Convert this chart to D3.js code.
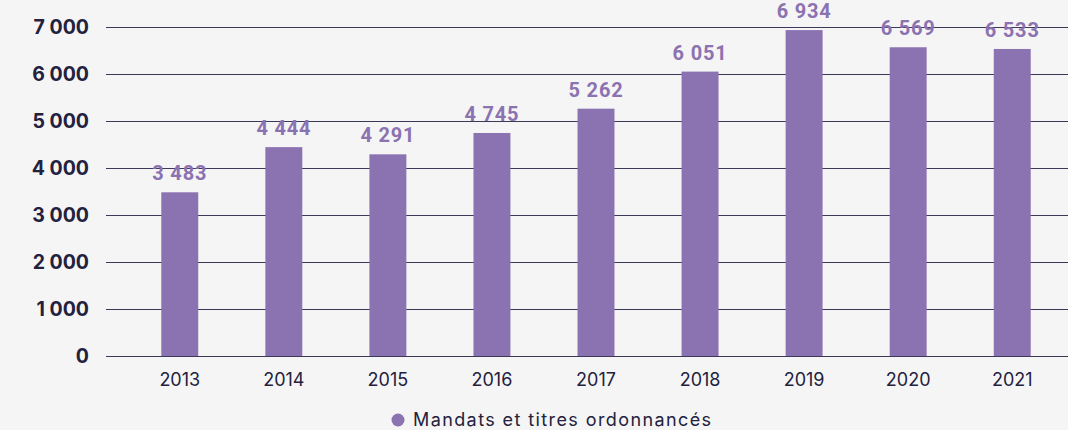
<!DOCTYPE html>
<html>
<head>
<meta charset="utf-8">
<script src="https://cdn.jsdelivr.net/npm/d3@7"></script>
<style>
  body { margin: 0; background: #f5f5f5; }
  svg { display: block; }
</style>
</head>
<body>
<script>
(function(){

//data
var years = ["2013", "2014", "2015", "2016", "2017", "2018", "2019", "2020", "2021"];
var mandats = [3483, 4444, 4291, 4745, 5262, 6051, 6934, 6569, 6533];
var yTicks = [0, 1000, 2000, 3000, 4000, 5000, 6000, 7000];
var legendLabel = "Mandats et titres ordonnancés";

var width = 1068,
    height = 430;

var purple = "#8b72b0",
    ink = "#23213d";

var svg = d3.select("body")
    .append("svg")
    .attr("width", width)
    .attr("height", height);

svg.append("rect")
    .attr("width", width)
    .attr("height", height)
    .attr("fill", "#f5f5f5");

//scales
var x = d3.scaleBand()
    .domain(years)
    .range([128, 1064])
    .paddingInner(0.645)
    .paddingOuter(0.32);

var y = d3.scaleLinear()
    .domain([0, 7000])
    .range([356, 27]);

//thousands separated by a space
var fmt = function(d){
    return d3.format(",")(d).replace(/,/g, " ");
};

//gridlines
svg.append("g")
    .attr("class", "grid")
    .selectAll("line")
    .data(yTicks)
    .enter()
    .append("line")
    .attr("x1", 106)
    .attr("x2", width)
    .attr("y1", function(d){ return Math.round(y(d)) + 0.5; })
    .attr("y2", function(d){ return Math.round(y(d)) + 0.5; })
    .attr("stroke", "#3b3858")
    .attr("stroke-width", 1.2);

//y axis labels
var yAxis = svg.append("g")
    .attr("transform", "translate(89,0)")
    .call(d3.axisLeft(y).tickValues(yTicks).tickSize(0).tickPadding(0).tickFormat(fmt));
yAxis.select(".domain").remove();
yAxis.selectAll("text")
    .attr("fill", ink)
    .style("font-family", "Inter, 'Noto Sans', sans-serif")
    .style("font-weight", "700")
    .style("font-size", "19.5px");

//bars
svg.selectAll(".bar")
    .data(mandats)
    .enter()
    .append("rect")
    .attr("class", "bar")
    .attr("x", function(d, i){ return x(years[i]); })
    .attr("width", x.bandwidth())
    .attr("y", function(d){ return y(d); })
    .attr("height", function(d){ return y(0) - y(d); })
    .attr("fill", purple);

//value labels
svg.selectAll(".val")
    .data(mandats)
    .enter()
    .append("text")
    .attr("class", "val")
    .attr("x", function(d, i){ return x(years[i]) + x.bandwidth() / 2; })
    .attr("y", function(d){ return y(d) - 12; })
    .attr("text-anchor", "middle")
    .attr("fill", purple)
    .style("font-family", "Roboto, sans-serif")
    .style("font-weight", "700")
    .style("font-size", "20px")
    .style("letter-spacing", "0.8px")
    .text(fmt);

//x axis labels
var xAxis = svg.append("g")
    .attr("transform", "translate(0,386)")
    .call(d3.axisBottom(x).tickSize(0).tickPadding(0));
xAxis.select(".domain").remove();
xAxis.selectAll("text")
    .attr("fill", ink)
    .attr("y", 0)
    .attr("dy", 0)
    .style("font-family", "Inter, 'Noto Sans', sans-serif")
    .style("font-size", "18px");

//legend
var legend = svg.append("g")
    .attr("transform", "translate(398,420)");
legend.append("circle")
    .attr("r", 6.5)
    .attr("fill", purple);
legend.append("text")
    .attr("x", 15)
    .attr("dy", "0.34em")
    .attr("fill", ink)
    .style("font-family", "Inter, 'Noto Sans', sans-serif")
    .style("font-size", "18px")
    .style("letter-spacing", "1.4px")
    .text(legendLabel);

})();
</script>
</body>
</html>
